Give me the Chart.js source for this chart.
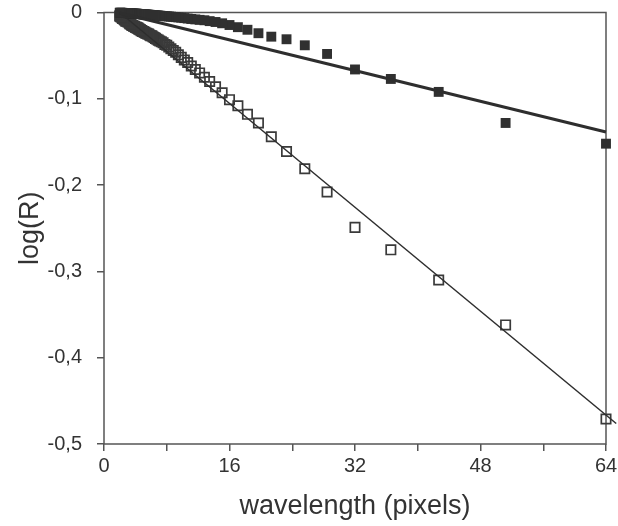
<!DOCTYPE html>
<html><head><meta charset="utf-8">
<script src="https://cdn.jsdelivr.net/npm/chart.js@4/dist/chart.umd.min.js"></script>
<style>html,body{margin:0;padding:0;background:#fff}canvas{display:block}</style>
</head><body>
<canvas id="c" width="618" height="526"></canvas>
<script>
// wavelength (pixels)
const wavelength = [
  64, 51.2, 42.67, 36.57, 32, 28.44, 25.6, 23.27, 21.33, 19.69, 18.29, 17.07, 16,
  15.06, 14.22, 13.47, 12.8, 12.19, 11.64, 11.13, 10.67, 10.24, 9.85, 9.48, 9.14, 8.83, 8.53, 8.26, 8,
  7.76, 7.53, 7.31, 7.11, 6.92, 6.74, 6.56, 6.4, 6.24, 6.1, 5.95, 5.82, 5.69, 5.57, 5.45, 5.33,
  5.22, 5.12, 5.02, 4.92, 4.83, 4.74, 4.65, 4.57, 4.49, 4.41, 4.34, 4.27, 4.2, 4.13, 4.06, 4,
  3.88, 3.76, 3.66, 3.56, 3.46, 3.37, 3.28, 3.2,
  3.05, 2.91, 2.78, 2.67, 2.56, 2.46, 2.37, 2.29, 2.21, 2.13, 2.06, 2];
// filled squares
const logRFilled = [
  -0.152, -0.128, -0.092, -0.077, -0.066, -0.048, -0.038, -0.031, -0.028, -0.024, -0.020, -0.017, -0.0145,
  -0.0125, -0.011, -0.010, -0.009, -0.0085, -0.008, -0.0075, -0.007, -0.0065, -0.006, -0.0057, -0.0054, -0.0051, -0.0048, -0.0046, -0.0044,
  -0.0043, -0.0041, -0.0039, -0.0037, -0.0035, -0.0034, -0.0032, -0.0031, -0.003, -0.0029, -0.0028, -0.0027, -0.0026, -0.0025, -0.0024, -0.0023,
  -0.0022, -0.0022, -0.0021, -0.002, -0.002, -0.0019, -0.0018, -0.0018, -0.0017, -0.0017, -0.0016, -0.0016, -0.0015, -0.0015, -0.0014, -0.0014,
  -0.0013, -0.0012, -0.0012, -0.0011, -0.001, -0.001, -0.0009, -0.0009,
  -0.0008, -0.0007, -0.0007, -0.0006, -0.0005, -0.0005, -0.0004, -0.0004, -0.0004, -0.0003, -0.0003, -0.0003];
// open squares
const logROpen = [
  -0.471, -0.362, -0.310, -0.275, -0.249, -0.208, -0.181, -0.161, -0.144, -0.128, -0.118, -0.108, -0.101,
  -0.093, -0.086, -0.080, -0.075, -0.070, -0.066, -0.062, -0.058, -0.055, -0.052, -0.049, -0.046, -0.044, -0.042, -0.040, -0.038,
  -0.037, -0.035, -0.034, -0.033, -0.032, -0.031, -0.030, -0.029, -0.028, -0.027, -0.027, -0.026, -0.025, -0.025, -0.024, -0.024,
  -0.023, -0.023, -0.022, -0.022, -0.021, -0.021, -0.020, -0.020, -0.019, -0.019, -0.018, -0.018, -0.018, -0.017, -0.017, -0.017,
  -0.016, -0.016, -0.015, -0.015, -0.014, -0.013, -0.013, -0.012,
  -0.011, -0.010, -0.010, -0.009, -0.008, -0.007, -0.007, -0.006, -0.005, -0.005, -0.004, -0.004];
// fitted lines
const fitFilledX = [2, 64];
const fitFilledY = [-0.0005, -0.1385];
const fitOpenX = [2, 65.3];
const fitOpenY = [0.0, -0.4763];
// tick labels
const xTickValues = [0, 16, 32, 48, 64];
const yTickLabels = ['0', '-0,1', '-0,2', '-0,3', '-0,4', '-0,5'];

const pts = (xs, ys) => xs.map((x, i) => ({x: x, y: ys[i]}));

const boxPlugin = {
  id: 'box',
  beforeDatasetsDraw(chart) {
    const a = chart.chartArea, ctx = chart.ctx;
    ctx.save();
    ctx.strokeStyle = '#555';
    ctx.lineWidth = 1.5;
    ctx.strokeRect(a.left, a.top, a.right - a.left, a.bottom - a.top);
    ctx.restore();
  }
};

Chart.defaults.font.family = '"Liberation Sans", Arial, sans-serif';
Chart.defaults.color = '#333';

new Chart(document.getElementById('c'), {
  type: 'scatter',
  data: {
    datasets: [
      {
        label: 'fit filled', data: pts(fitFilledX, fitFilledY), showLine: true,
        borderColor: '#2e2e2e', borderWidth: 3, pointRadius: 0, clip: false, order: 1
      },
      {
        label: 'fit open', data: pts(fitOpenX, fitOpenY), showLine: true,
        borderColor: '#2e2e2e', borderWidth: 1.5, pointRadius: 0, clip: false, order: 1
      },
      {
        label: 'filled', data: pts(wavelength, logRFilled), pointStyle: 'rect',
        pointRadius: 7, backgroundColor: '#303030', borderColor: '#303030', borderWidth: 0, clip: false, order: 2
      },
      {
        label: 'open', data: pts(wavelength, logROpen), pointStyle: 'rect',
        pointRadius: 6.6, backgroundColor: 'rgba(255,255,255,0)', borderColor: '#3a3a3a', borderWidth: 1.7, clip: false, order: 2
      }
    ]
  },
  options: {
    responsive: false,
    animation: false,
    devicePixelRatio: 1,
    layout: {autoPadding: false, padding: {top: 12.5, right: 12, left: 0, bottom: 0}},
    plugins: {legend: {display: false}, tooltip: {enabled: false}},
    scales: {
      x: {
        type: 'linear', min: 0, max: 64,
        afterFit(s) { s.height = 82; s.paddingLeft = 0; s.paddingRight = 0; s.paddingTop = 0; s.paddingBottom = 0; },
        ticks: {
          stepSize: 8, autoSkip: false, maxRotation: 0, padding: 3,
          font: {size: 20}, color: '#333',
          callback: v => xTickValues.includes(v) ? String(v) : ''
        },
        grid: {drawOnChartArea: false, drawTicks: true, tickLength: 7, color: '#555', lineWidth: 1.5},
        border: {display: false},
        title: {display: true, text: 'wavelength (pixels)', font: {size: 27}, color: '#333', padding: {top: 0, bottom: 3}}
      },
      y: {
        type: 'linear', min: -0.5, max: 0,
        afterFit(s) { s.width = 104; s.paddingTop = 0; s.paddingBottom = 0; s.paddingLeft = 0; s.paddingRight = 0; },
        ticks: {
          stepSize: 0.1, autoSkip: false, padding: 15,
          font: {size: 20}, color: '#333',
          callback: v => yTickLabels[Math.round(-v * 10)]
        },
        grid: {drawOnChartArea: false, drawTicks: true, tickLength: 7, color: '#555', lineWidth: 1.5},
        border: {display: false},
        title: {display: true, text: 'log(R)', font: {size: 27}, color: '#333', padding: {top: 14, bottom: 0}}
      }
    }
  },
  plugins: [boxPlugin]
});
</script>
</body></html>
